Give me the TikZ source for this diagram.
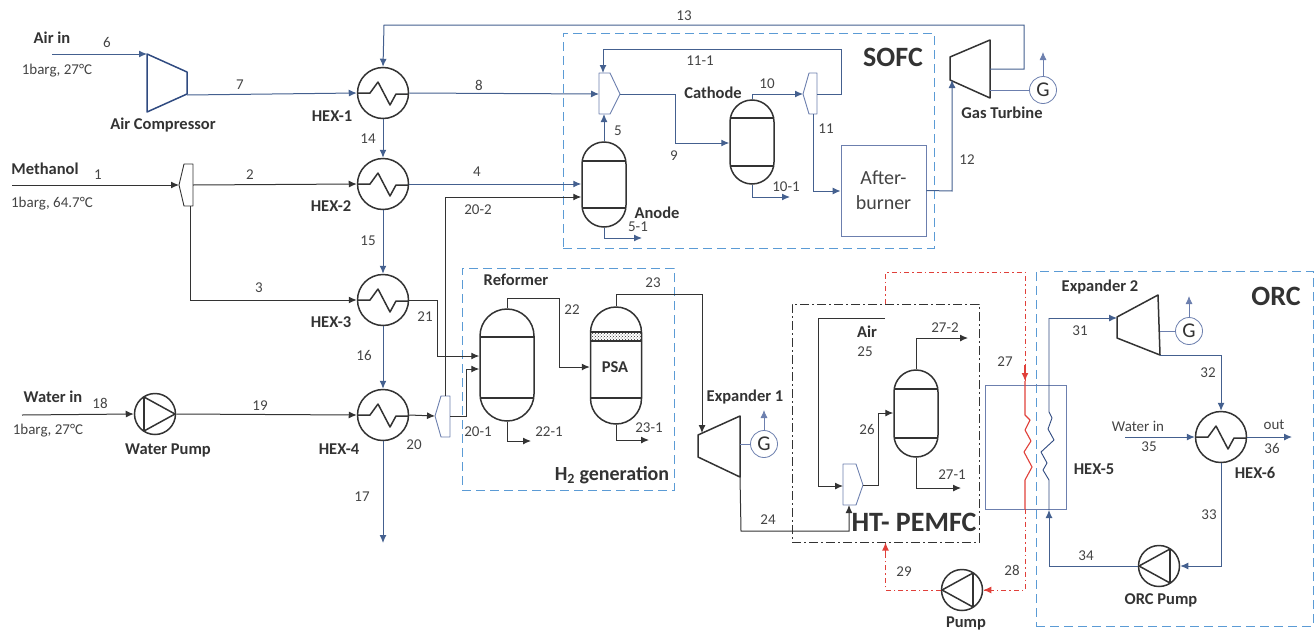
\documentclass[tikz,border=0pt]{standalone}
\usepackage{fontspec}
\setmainfont{Carlito}
\usetikzlibrary{arrows.meta,patterns}
\definecolor{ink}{HTML}{333333}
\definecolor{flowblue}{HTML}{44608F}
\definecolor{deepblue}{HTML}{2F4A80}
\definecolor{boxblue}{HTML}{5B9BD5}
\definecolor{thinblue}{HTML}{6C7FAE}
\definecolor{txt}{HTML}{444444}
\definecolor{redline}{HTML}{E0403A}
\tikzset{
  tip/.style={-{Latex[length=8pt,width=7pt]}},
  flowk/.style={draw=ink,line width=1pt},
  flowb/.style={draw=flowblue,line width=1pt},
  arrk/.style={flowk,tip},
  arrb/.style={flowb,tip},
  unitline/.style={draw=ink,line width=1.5pt},
  hexc/.style={circle,draw=ink,line width=1.5pt,minimum size=51pt,inner sep=0pt,fill=white},
  pumpc/.style={circle,draw=ink,line width=1.5pt,minimum size=41pt,inner sep=0pt,fill=white},
  genc/.style={circle,draw=thinblue,line width=0.8pt,minimum size=27pt,inner sep=0pt,fill=white,text=ink,font=\fontsize{21}{21}\selectfont},
  vesselc/.style={draw=ink,line width=1.5pt,inner sep=0pt,fill=white},
  thinsplit/.style={draw=thinblue,line width=0.9pt,fill=white,line join=round},
  lab/.style={text=txt,inner sep=0pt,font=\fontsize{15}{15}\selectfont},
  blab/.style={text=ink,inner sep=0pt,font=\fontsize{16.5}{17}\bfseries\selectfont},
  biglab/.style={text=ink,inner sep=0pt,font=\fontsize{28}{28}\selectfont\bfseries},
  zonebox/.style={draw=boxblue,line width=1pt,dash pattern=on 9pt off 5pt,inner sep=0pt,fill=none},
  zonepem/.style={draw=ink,line width=1pt,dash pattern=on 9pt off 3pt on 2pt off 3pt,inner sep=0pt,fill=none},
  zonered/.style={draw=redline,line width=0.9pt,dash pattern=on 5pt off 3pt on 1.5pt off 3pt},
}
\newcommand{\hexunit}[3]{%
  \begin{scope}[shift={(#2,#3)}]
    \node[hexc] (#1) at (0,0) {};
    \draw[draw=ink,line width=1.5pt,line join=round] (-25,0) -- (-13,0) -- (-5,-11) -- (7,12) -- (13,1) -- (25,1);
  \end{scope}}
\newcommand{\pumpunit}[4]{% name x y direction(+1 right, -1 left)
  \begin{scope}[shift={(#2,#3)}]
    \node[pumpc] (#1) at (0,0) {};
    \draw[draw=ink,line width=1.5pt,line join=round] ({#4*-11},-17) -- ({#4*20},0) -- ({#4*-11},17);
    \draw[draw=ink,line width=1.5pt] ({#4*-11},-17) -- ({#4*-11},17);
  \end{scope}}
\newcommand{\vesselunit}[7]{% name xc ytop ybot w y1 y2
  \pgfmathsetmacro{\vcy}{(#3+#4)/2}
  \pgfmathsetmacro{\vh}{#4-#3}
  \pgfmathsetmacro{\vr}{#5/2}
  \pgfmathsetmacro{\vxl}{#2-#5/2}
  \pgfmathsetmacro{\vxr}{#2+#5/2}
  \node[vesselc,rounded corners=\vr pt,minimum width=#5pt,minimum height=\vh pt] (#1) at (#2,\vcy) {};
  \draw[unitline] (\vxl,#6) -- (\vxr,#6);
  \draw[unitline] (\vxl,#7) -- (\vxr,#7);}
\begin{document}
\begin{tikzpicture}[x=1pt,y=-1pt]
\useasboundingbox (0,0) rectangle (1316,632);

% zones
\node[zonebox,minimum width=371pt,minimum height=215pt] (sofc) at (748.5,140.5) {};
\node[zonebox,minimum width=212pt,minimum height=222pt] (h2box) at (568,379) {};
\node[zonebox,minimum width=277pt,minimum height=355pt] (orc) at (1174.5,448.5) {};
\node[zonepem,minimum width=187pt,minimum height=238pt] (pem) at (885.5,423) {};

% free ends
\coordinate (airstart) at (52,54);
\coordinate (mestart) at (12,185);
\coordinate (wstart) at (22,415);
\coordinate (c13a) at (1024,69);
\coordinate (c13b) at (1024,25);
\coordinate (c13c) at (384,25);

% units
\hexunit{hexa}{383}{93}
\hexunit{hexb}{383}{184}
\hexunit{hexc}{383}{300}
\hexunit{hexd}{383}{415}
\hexunit{hexf}{1221}{437}
\pumpunit{wpump}{155}{414}{1}
\pumpunit{rpump}{962}{590}{-1}
\pumpunit{opump}{1159}{566}{-1}
\vesselunit{anode}{604}{142}{227}{44}{161}{208}
\vesselunit{cathode}{752}{100}{184}{44}{118}{166}
\vesselunit{reformer}{507}{309}{421}{54}{337}{398}
\vesselunit{psa}{616}{307}{424}{51}{332}{398}
\fill[pattern=crosshatch dots,pattern color=ink] (590.5,332) rectangle (641.5,341);
\draw[unitline] (590.5,341) -- (641.5,341);
\vesselunit{fc}{916}{370}{457}{44}{389}{438}
\node[draw=thinblue,line width=0.9pt,minimum width=85pt,minimum height=91pt,inner sep=0pt,align=center,text=txt,font=\fontsize{20}{25}\selectfont] (burner) at (883.5,190.5) {After-\\burner};
\node[draw=thinblue,line width=0.9pt,minimum width=81pt,minimum height=124pt,inner sep=0pt] (hexe) at (1025.5,447) {};
\node[genc] (gena) at (1043,90) {G};
\node[genc] (genb) at (764,444) {G};
\node[genc] (genc) at (1189,331) {G};

% compressor and turbines
\coordinate (compin) at (147,54);
\coordinate (compout) at (187,95);
\draw[draw=deepblue,line width=1.5pt,line join=round] (compin) -- (187,72) -- (187,94) -- (147,112) -- cycle;
\coordinate (gtin) at (952,80);
\coordinate (gtout) at (990,69);
\coordinate (gtshaft) at (990,90);
\draw[unitline,line join=round] (950,57) -- (990,40) -- (990,98) -- (950,80) -- cycle;
\coordinate (ex1in) at (702,433);
\coordinate (ex1out) at (740,477);
\coordinate (ex1shaft) at (740,444);
\draw[unitline,line join=round] (698,435) -- (740,416) -- (740,477) -- (698,457) -- cycle;
\coordinate (ex2in) at (1117,318);
\coordinate (ex2out) at (1160,355);
\coordinate (ex2shaft) at (1160,331);
\draw[unitline,line join=round] (1117,317) -- (1158,295) -- (1160,355) -- (1117,338) -- cycle;

% splitters and mixers
\coordinate (splain) at (179,185);
\coordinate (splatop) at (190,206);
\coordinate (splaout) at (193,185);
\draw[draw=ink,line width=0.9pt,fill=white,line join=round] (splain) -- (184,164) -- (193,164) -- (193,206) -- (184,206) -- cycle;
\coordinate (splbin) at (435,416);
\coordinate (splbtop) at (445,396);
\coordinate (splbout) at (450,416);
\draw[thinsplit] (splbin) -- (441,396) -- (450,396) -- (450,437) -- (441,437) -- cycle;
\coordinate (mixain) at (599,94);
\coordinate (mixabot) at (604,114);
\coordinate (mixatop) at (603,73);
\coordinate (mixaout) at (620,94);
\draw[thinsplit] (599,73) -- (610,73) -- (mixaout) -- (610,114) -- (599,114) -- cycle;
\coordinate (splcin) at (803,94);
\coordinate (splcout) at (817,94);
\coordinate (splcbot) at (813,114);
\draw[thinsplit] (splcin) -- (809,73) -- (817,73) -- (817,114) -- (809,114) -- cycle;
\coordinate (mixbin) at (843,486);
\coordinate (mixbbot) at (849,505);
\coordinate (mixbout) at (863,485);
\draw[thinsplit] (843,464) -- (856,464) -- (mixbout) -- (856,505) -- (843,505) -- cycle;

% connectors: left column
\draw[arrb] (airstart) -- (compin);
\draw[arrb] (compout) -- (hexa.west);
\draw[arrb] (gtout) -- (c13a) -- (c13b) -- (c13c) -- (hexa.north);
\draw[arrb] (hexa.south) -- (hexb.north);
\draw[arrb] (hexb.south) -- (hexc.north);
\draw[arrb] (hexc.south) -- (hexd.north);
\coordinate (endseventeen) at (383,543);
\draw[arrb] (hexd.south) -- (endseventeen);
\draw[arrk] (mestart) -- (splain);
\draw[arrk] (splaout) -- (hexb.west);
\coordinate (c3) at (190,300);
\draw[arrk] (splatop) -- (c3) -- (hexc.west);
\draw[arrk] (wstart) -- (wpump.west);
\draw[arrk] (wpump.east) -- (hexd.west);
\draw[arrk] (hexd.east) -- (splbin);

% SOFC
\coordinate (c202) at (445,197);
\draw[arrk] (splbtop) -- (c202) -- (anode.west |- c202);
\draw[arrb] (hexb.east) -- (anode.west |- hexb.east);
\draw[arrb] (hexa.east) -- (mixain);
\draw[arrb] (anode.north) -- (mixabot);
\coordinate (c9a) at (675,94);
\coordinate (c9b) at (675,143);
\draw[arrb] (mixaout) -- (c9a) -- (c9b) -- (cathode.west |- c9b);
\coordinate (c10) at (752,94);
\draw[arrb] (cathode.north) -- (c10) -- (splcin);
\coordinate (c111a) at (841,94);
\coordinate (c111b) at (841,49);
\coordinate (c111c) at (603,49);
\draw[arrb] (splcout) -- (c111a) -- (c111b) -- (c111c) -- (mixatop);
\coordinate (c11) at (813,191);
\draw[arrb] (splcbot) -- (c11) -- (burner.west |- c11);
\coordinate (c12) at (952,191);
\draw[arrb] (burner.east) -- (c12) -- (gtin);
\draw[draw=thinblue,line width=0.8pt] (gtshaft) -- (gena.west);
\coordinate (g1up) at (1043,52);
\draw[draw=thinblue,line width=0.8pt,tip] (gena.north) -- (g1up);
\coordinate (c51a) at (604,238);
\coordinate (c51b) at (642,238);
\draw[arrb] (anode.south) -- (c51a) -- (c51b);
\coordinate (c101a) at (752,197);
\coordinate (c101b) at (790,197);
\draw[arrb] (cathode.south) -- (c101a) -- (c101b);

% H2 generation
\coordinate (c21a) at (437,300);
\coordinate (c21b) at (437,356);
\draw[arrk] (hexc.east) -- (c21a) -- (c21b) -- (reformer.west |- c21b);
\coordinate (c20a) at (466,416);
\coordinate (c20b) at (466,369);
\draw[arrk] (splbout) -- (c20a) -- (c20b) -- (reformer.west |- c20b);
\coordinate (c22a) at (507,298);
\coordinate (c22b) at (559,298);
\coordinate (c22c) at (559,367);
\draw[arrk] (reformer.north) -- (c22a) -- (c22b) -- (c22c) -- (psa.west |- c22c);
\coordinate (c221a) at (507,441);
\coordinate (c221b) at (531,441);
\draw[arrk] (reformer.south) -- (c221a) -- (c221b);
\coordinate (c231a) at (616,440);
\coordinate (c231b) at (649,440);
\draw[arrk] (psa.south) -- (c231a) -- (c231b);
\coordinate (c23a) at (616,294);
\coordinate (c23b) at (702,294);
\draw[arrk] (psa.north) -- (c23a) -- (c23b) -- (ex1in);

% PEMFC
\coordinate (c24a) at (741,531);
\coordinate (c24b) at (849,531);
\draw[arrk] (ex1out) -- (c24a) -- (c24b) -- (mixbbot);
\draw[draw=thinblue,line width=0.8pt] (ex1shaft) -- (genb.west);
\coordinate (g2up) at (764,410);
\draw[draw=thinblue,line width=0.8pt,tip] (genb.north) -- (g2up);
\coordinate (airstartb) at (885,318);
\coordinate (c25) at (818,318);
\coordinate (c25b) at (818,486);
\draw[arrk] (airstartb) -- (c25) -- (c25b) -- (mixbin);
\coordinate (c26a) at (878,485);
\coordinate (c26b) at (878,413);
\draw[arrk] (mixbout) -- (c26a) -- (c26b) -- (fc.west |- c26b);
\coordinate (c272a) at (916,338);
\coordinate (c272b) at (968,338);
\draw[arrk] (fc.north) -- (c272a) -- (c272b);
\coordinate (c271a) at (916,488);
\coordinate (c271b) at (961,488);
\draw[arrk] (fc.south) -- (c271a) -- (c271b);

% red loop
\coordinate (redtopl) at (885.5,272);
\coordinate (redtopr) at (1025,272);
\coordinate (redin) at (1025,381);
\coordinate (redout) at (1025,509);
\coordinate (redbot) at (1025,590);
\coordinate (redbotl) at (885.5,590);
\draw[zonered] (pem.north) -- (redtopl) -- (redtopr) -- (redin);
\draw[draw=redline,line width=1.1pt,-{Latex[length=8pt,width=7pt]}] (1025,365) -- (redin);
\draw[draw=redline,line width=1.1pt,line join=round] (redin) -- (1025,415) -- (1030,420) -- (1025,430) -- (1031,441) -- (1024,452) -- (1032,467) -- (1025,480) -- (redout);
\draw[zonered] (redout) -- (redbot) -- (rpump.east);
\draw[draw=redline,line width=1.1pt,tip] (988,590) -- (rpump.east);
\draw[zonered] (rpump.west) -- (redbotl) -- (pem.south);
\draw[draw=redline,line width=1.1pt,tip] (885.5,558) -- (pem.south);

% ORC
\coordinate (c34a) at (1049,566);
\coordinate (c34b) at (1049,510);
\draw[arrb] (opump.west) -- (c34a) -- (c34b);
\coordinate (c31a) at (1049,318);
\draw[draw=deepblue,line width=0.9pt,line join=round] (c34b) -- (1049,480) -- (1043,470) -- (1047,463) -- (1041,452) -- (1054,440) -- (1048,429) -- (1052,418) -- (1049,412) -- (c31a);
\draw[arrb] (c31a) -- (ex2in);
\coordinate (c32) at (1221,355);
\draw[arrb] (ex2out) -- (c32) -- (hexf.north);
\coordinate (c33) at (1221,566);
\draw[arrb] (hexf.south) -- (c33) -- (opump.east);
\coordinate (c35) at (1125,437);
\draw[arrb] (c35) -- (hexf.west);
\coordinate (c36) at (1292,437);
\draw[arrb] (hexf.east) -- (c36);
\draw[draw=thinblue,line width=0.8pt] (ex2shaft) -- (genc.west);
\coordinate (g3up) at (1189,296);
\draw[draw=thinblue,line width=0.8pt,tip] (genc.north) -- (g3up);

% bold labels
\node[blab] (tairin) at (52,38) {Air in};
\node[blab] (tmeth) at (45,169) {Methanol};
\node[blab] (twater) at (53,397) {Water in};
\node[blab] (tcomp) at (163,125) {Air Compressor};
\node[blab] (thexa) at (332,116) {HEX-1};
\node[blab] (thexb) at (331,206) {HEX-2};
\node[blab] (thexc) at (331,322) {HEX-3};
\node[blab] (thexd) at (339,449) {HEX-4};
\node[blab] (thexe) at (1094,469) {HEX-5};
\node[blab] (thexf) at (1255,473) {HEX-6};
\node[blab] (twp) at (168,450) {Water Pump};
\node[blab] (tgt) at (1002,113) {Gas Turbine};
\node[blab] (tcath) at (713,93) {Cathode};
\node[blab] (tan) at (657,213) {Anode};
\node[blab] (tref) at (516,280) {Reformer};
\node[blab] (tpsa) at (615,367) {PSA};
\node[blab] (tex1) at (745,397) {Expander 1};
\node[blab] (tex2) at (1100,287) {Expander 2};
\node[blab] (tair) at (867,332) {Air};
\node[blab] (tpump) at (966,623) {Pump};
\node[blab] (torcp) at (1161,600) {ORC Pump};

% big labels
\node[biglab] (tsofc) at (893,57) {SOFC};
\node[biglab] (torc) at (1276,296) {ORC};
\node[biglab] (tpem) at (914,522) {HT- PEMFC};
\node[text=ink,inner sep=0pt,font=\fontsize{20}{20}\selectfont\bfseries] (thtwo) at (612,475) {H\textsubscript{2} generation};

% stream labels
\node[lab] (cond1) at (57,71) {1barg, 27°C};
\node[lab] (cond2) at (52,204) {1barg, 64.7°C};
\node[lab] (cond3) at (48,431) {1barg, 27°C};
\node[lab] (s1) at (98,175) {1};
\node[lab] (s2) at (250,175) {2};
\node[lab] (s3) at (259,288) {3};
\node[lab] (s4) at (477,172) {4};
\node[lab] (s5) at (618,131) {5};
\node[lab] (s51) at (638,227) {5-1};
\node[lab] (s6) at (107,42) {6};
\node[lab] (s7) at (240,85) {7};
\node[lab] (s8) at (479,85) {8};
\node[lab] (s9) at (674,156) {9};
\node[lab] (s10) at (767,84) {10};
\node[lab] (s101) at (786,187) {10-1};
\node[lab] (s11) at (826,129) {11};
\node[lab] (s111) at (700,61) {11-1};
\node[lab] (s12) at (967,160) {12};
\node[lab] (s13) at (684,16) {13};
\node[lab] (s14) at (368,139) {14};
\node[lab] (s15) at (368,241) {15};
\node[lab] (s16) at (364,355) {16};
\node[lab] (s17) at (362,497) {17};
\node[lab] (s18) at (100,403) {18};
\node[lab] (s19) at (260,406) {19};
\node[lab] (s20) at (414,445) {20};
\node[lab] (s201) at (478,432) {20-1};
\node[lab] (s202) at (478,210) {20-2};
\node[lab] (s21) at (425,317) {21};
\node[lab] (s22) at (572,310) {22};
\node[lab] (s221) at (549,432) {22-1};
\node[lab] (s23) at (653,283) {23};
\node[lab] (s231) at (649,428) {23-1};
\node[lab] (s24) at (768,520) {24};
\node[lab] (s25) at (865,352) {25};
\node[lab] (s26) at (867,429) {26};
\node[lab] (s27) at (1005,362) {27};
\node[lab] (s271) at (952,475) {27-1};
\node[lab] (s272) at (945,328) {27-2};
\node[lab] (s28) at (1012,570) {28};
\node[lab] (s29) at (904,572) {29};
\node[lab] (s31) at (1080,331) {31};
\node[lab] (s32) at (1208,373) {32};
\node[lab] (s33) at (1209,515) {33};
\node[lab] (s34) at (1086,556) {34};
\node[lab] (s35) at (1149,447) {35};
\node[lab] (s36) at (1272,448) {36};
\node[lab] (twin) at (1138,426) {Water in};
\node[lab] (tout) at (1274,425) {out};
\end{tikzpicture}
\end{document}
